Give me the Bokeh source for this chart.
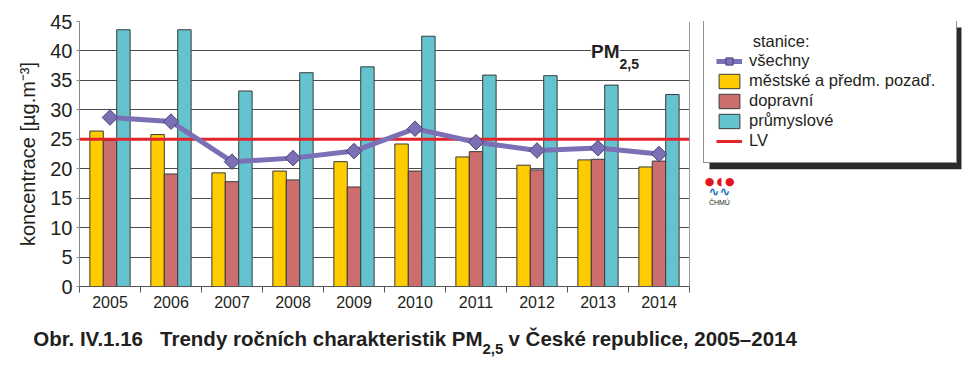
import numpy as np
from bokeh.plotting import figure
from bokeh.layouts import column
from bokeh.models import (ColumnDataSource, FixedTicker, Legend, LegendItem, Label,
                          BoxAnnotation, Span, Range1d)
from bokeh.transform import dodge
from bokeh.embed import file_html
from bokeh.resources import INLINE

# ---- data ----
years = ["2005", "2006", "2007", "2008", "2009", "2010", "2011", "2012", "2013", "2014"]
mestske = [26.4, 25.8, 19.3, 19.6, 21.2, 24.2, 22.0, 20.6, 21.5, 20.3]
dopravni = [24.8, 19.1, 17.8, 18.1, 16.9, 19.6, 22.9, 19.8, 21.6, 21.3]
prumyslove = [43.6, 43.6, 33.2, 36.3, 37.3, 42.5, 35.9, 35.8, 34.2, 32.6]
vsechny = [28.7, 28.0, 21.2, 21.8, 23.0, 26.8, 24.5, 23.1, 23.5, 22.5]
lv_value = 25
y_ticks = [0, 5, 10, 15, 20, 25, 30, 35, 40, 45]

n = len(years)
xc = [i + 0.5 for i in range(n)]
src = ColumnDataSource(dict(x=xc, year=years, m=mestske, d=dopravni,
                            p=prumyslove, v=vsechny))

FONT = "Liberation Sans"
TXT = "#231f20"
W = 968

p = figure(width=W, height=318, x_range=Range1d(0, 14.574), y_range=Range1d(0, 45),
           output_backend="svg", toolbar_location=None,
           min_border_left=79, min_border_right=0, min_border_top=21, min_border_bottom=32)
p.frame_align = False
p.outline_line_color = None
p.background_fill_color = "white"
p.border_fill_color = "white"

# axes
xa = p.xaxis[0]
xa.ticker = FixedTicker(ticks=xc, minor_ticks=list(range(n + 1)))
xa.bounds = (0, n)
xa.major_label_overrides = {x: y for x, y in zip(xc, years)}
xa.major_tick_out = 0
xa.major_tick_in = 0
xa.minor_tick_out = 6
xa.minor_tick_in = 0
xa.minor_tick_line_color = "#555555"
xa.axis_line_color = "#555555"
xa.major_label_standoff = 3
xa.major_label_text_font = FONT
xa.major_label_text_font_size = "16px"
xa.major_label_text_color = TXT

ya = p.yaxis[0]
ya.ticker = FixedTicker(ticks=y_ticks)
ya.major_tick_out = 3
ya.major_tick_in = 0
ya.minor_tick_out = 0
ya.minor_tick_in = 0
ya.axis_line_color = "#888888"
ya.major_tick_line_color = "#888888"
ya.major_label_standoff = 4
ya.major_label_text_font = FONT
ya.major_label_text_font_size = "20px"
ya.major_label_text_color = TXT
ya.axis_label = "koncentrace [µg.m⁻³]"
ya.axis_label_text_font = FONT
ya.axis_label_text_font_size = "20px"
ya.axis_label_text_font_style = "normal"
ya.axis_label_text_color = TXT
ya.axis_label_standoff = 8

p.xgrid.visible = False
p.ygrid.ticker = FixedTicker(ticks=y_ticks)
p.ygrid.grid_line_color = "#4d4d4d"
p.ygrid.grid_line_width = 1
p.ygrid.cross_bounds = (0, n)

p.add_layout(Span(location=n, dimension="height", line_color="#999999", line_width=1))

# bars
bw = 0.22
r_m = p.vbar(x=dodge("x", -bw, range=p.x_range), top="m", width=bw, source=src,
             fill_color="#FFCC00", line_color="#3a3a3a", line_width=1)
r_d = p.vbar(x=dodge("x", 0, range=p.x_range), top="d", width=bw, source=src,
             fill_color="#CC6E6E", line_color="#3a3a3a", line_width=1)
r_p = p.vbar(x=dodge("x", bw, range=p.x_range), top="p", width=bw, source=src,
             fill_color="#64C3CF", line_color="#3a3a3a", line_width=1)

# limit value line
r_lv = p.line(x=[0, n], y=[lv_value, lv_value], line_color="#E3242B", line_width=3)

# all stations
r_l = p.line("x", "v", source=src, line_color="#7B70B5", line_width=5)
r_s = p.scatter("x", "v", source=src, marker="square", angle=np.pi / 4, size=11,
                fill_color="#7B70B5", line_color="#4a4272", line_width=1)

# legend shadow
shadow = BoxAnnotation(left=10.328, right=14.459, top=43.98, bottom=19.9,
                       fill_color="#2b2b2b", fill_alpha=1, line_color=None)
p.add_layout(shadow)

legend = Legend(items=[
    LegendItem(label="všechny", renderers=[r_l, r_s]),
    LegendItem(label="městské a předm. pozaď.", renderers=[r_m]),
    LegendItem(label="dopravní", renderers=[r_d]),
    LegendItem(label="průmyslové", renderers=[r_p]),
    LegendItem(label="LV", renderers=[r_lv]),
], title="\u00a0" * 8 + "stanice:", location=(624, 123))
legend.border_line_color = "#222222"
legend.border_line_width = 1
legend.background_fill_color = "white"
legend.background_fill_alpha = 1
legend.padding = 12
legend.spacing = 1
legend.margin = 0
legend.label_standoff = 7
legend.glyph_width = 26
legend.glyph_height = 18
legend.label_height = 18
legend.label_width = 195
legend.label_text_font = FONT
legend.label_text_font_size = "16.5px"
legend.label_text_color = TXT
legend.title_text_font = FONT
legend.title_text_font_size = "16.5px"
legend.title_text_font_style = "normal"
legend.title_text_color = TXT
legend.title_standoff = 0
p.add_layout(legend, "center")

# PM2,5 label
p.add_layout(Label(x=8.852, y=38.2, text="PM", text_align="right",
                   text_font=FONT, text_font_size="19px", text_font_style="bold",
                   text_color=TXT, background_fill_color="white"))
p.add_layout(Label(x=8.852, y=37.0, text="2,5", text_align="left",
                   text_font=FONT, text_font_size="14px", text_font_style="bold",
                   text_color=TXT, background_fill_color="white"))

# logo
for xx, t in [(10.33, "●"), (10.49, "◖"), (10.66, "●")]:
    p.add_layout(Label(x=xx, y=17.8, text=t, text_align="center", text_baseline="middle",
                       text_font="DejaVu Sans", text_font_size="11px", text_color="#e2161f"))
p.add_layout(Label(x=10.49, y=16.1, text="∿∿", text_align="center", text_baseline="middle",
                   text_font="DejaVu Sans", text_font_size="13px", text_font_style="bold",
                   text_color="#1f6fc0"))
p.add_layout(Label(x=10.49, y=14.3, text="ČHMÚ", text_align="center", text_baseline="middle",
                   text_font=FONT, text_font_size="7px", text_color=TXT))

# caption (separate strip below the chart, 1 data unit = 1 px)
CH = 50
cap = figure(width=W, height=CH, x_range=Range1d(0, W), y_range=Range1d(0, CH),
             output_backend="svg", toolbar_location=None,
             x_axis_type=None, y_axis_type=None, min_border=0)
cap.frame_align = False
cap.outline_line_color = None
cap.xgrid.visible = False
cap.ygrid.visible = False
cap.add_layout(Label(x=482, y=19, text="Obr. IV.1.16\u00a0\u00a0 Trendy ročních charakteristik PM",
                     text_align="right", text_font=FONT, text_font_size="20.5px",
                     text_font_style="bold", text_color=TXT))
cap.add_layout(Label(x=482, y=14.5, text="2,5", text_align="left",
                     text_font=FONT, text_font_size="15px", text_font_style="bold",
                     text_color=TXT))
cap.add_layout(Label(x=508, y=19, text="v České republice, 2005–2014", text_align="left",
                     text_font=FONT, text_font_size="20.5px", text_font_style="bold",
                     text_color=TXT))

layout = column(p, cap, spacing=0)
open("out.html", "w").write(file_html(layout, INLINE))
